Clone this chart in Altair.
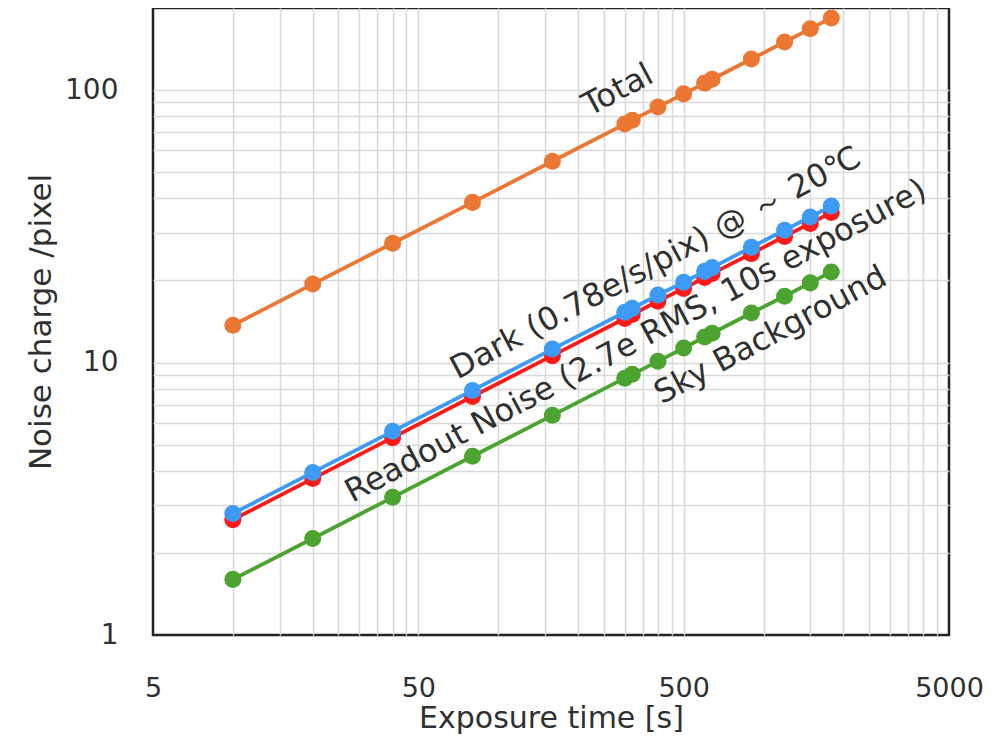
import altair as alt
import pandas as pd

# Exposure times [s]
exposure = [10, 20, 40, 80, 160, 300, 320, 400, 500, 600, 640, 900, 1200, 1500, 1800]
# Noise charge per pixel
total = [13.7, 19.4, 27.4, 38.7, 54.8, 75.0, 77.5, 86.6, 96.8, 106.0, 109.5, 130.0, 150.0, 167.7, 183.7]
dark = [2.79, 3.95, 5.59, 7.90, 11.2, 15.3, 15.8, 17.7, 19.7, 21.6, 22.3, 26.5, 30.6, 34.2, 37.5]
readout = [2.65, 3.75, 5.30, 7.50, 10.6, 14.5, 15.0, 16.8, 18.7, 20.5, 21.2, 25.1, 29.0, 32.4, 35.5]
sky = [1.60, 2.26, 3.20, 4.53, 6.40, 8.76, 9.05, 10.1, 11.3, 12.4, 12.8, 15.2, 17.5, 19.6, 21.5]

series_names = ["Total", "Sky", "Readout", "Dark"]
series_values = [total, sky, readout, dark]
series_colors = ["#EC7733", "#4DA32F", "#FF1A1A", "#3D9BF6"]

# In-chart labels
label_text = ["Total",
              "Dark (0.78e/s/pix) @ ～ 20℃",
              "Readout Noise (2.7e RMS, 10s exposure)",
              "Sky Background"]
label_x = [282, 392, 330, 1062]
label_y = [100, 23.2, 12.0, 12.6]

# Axis grid / tick values
x_grid = [5, 10, 15, 20, 25, 30, 35, 40, 45, 50,
          100, 150, 200, 250, 300, 350, 400, 450, 500,
          1000, 1500, 2000, 2500, 3000, 3500, 4000, 4500, 5000]
x_labels = [5, 50, 500, 5000]
y_grid = [1, 2, 3, 4, 5, 6, 7, 8, 9, 10,
          20, 30, 40, 50, 60, 70, 80, 90, 100, 200]
y_labels = [1, 10, 100]

FONT = "DejaVu Sans"
TXT = "#303030"

x_scale = alt.Scale(type="log", domain=[5, 5000], nice=False)
y_scale = alt.Scale(type="log", domain=[1, 200], nice=False)

x_axis = alt.Axis(
    values=x_grid,
    labelExpr="indexof(%s, datum.value) >= 0 ? '' + datum.value : ''" % str(x_labels),
    labelOverlap=False, labelFlush=False, ticks=False, domain=False,
    grid=True, gridColor="#D9D9D9", gridWidth=1.5,
    gridOpacity={"condition": {"test": "datum.value == 5 || datum.value == 5000", "value": 0}, "value": 1},
    labelFont=FONT, labelFontSize=27, labelColor=TXT, labelPadding=40,
    title="Exposure time [s]", titleFont=FONT, titleFontSize=30,
    titleFontWeight="normal", titleColor=TXT, titleY=92, titleBaseline="alphabetic",
)
y_axis = alt.Axis(
    values=y_grid,
    labelExpr="indexof(%s, datum.value) >= 0 ? '' + datum.value : ''" % str(y_labels),
    labelOverlap=False, labelFlush=False, ticks=False, domain=False,
    grid=True, gridColor="#D9D9D9", gridWidth=1.5,
    gridOpacity={"condition": {"test": "datum.value == 1 || datum.value == 200", "value": 0}, "value": 1},
    labelFont=FONT, labelFontSize=28, labelColor=TXT, labelPadding=35,
    title="Noise charge /pixel", titleFont=FONT, titleFontSize=31,
    titleFontWeight="normal", titleColor=TXT, titleX=-103, titleBaseline="alphabetic",
)

layers = []
for i, (name, vals, col) in enumerate(zip(series_names, series_values, series_colors)):
    df = pd.DataFrame({"t": exposure, "v": vals, "s": name})
    base = alt.Chart(df)
    if i == 0:
        xenc = alt.X("t:Q", scale=x_scale, axis=x_axis)
        yenc = alt.Y("v:Q", scale=y_scale, axis=y_axis)
    else:
        xenc = alt.X("t:Q", scale=x_scale)
        yenc = alt.Y("v:Q", scale=y_scale)
    line = base.mark_line(color=col, strokeWidth=3.8).encode(x=xenc, y=yenc)
    pts = base.mark_circle(color=col, size=290, opacity=1).encode(x=xenc, y=yenc)
    layers += [line, pts]

lab_df = pd.DataFrame({"x": label_x, "y": label_y, "text": label_text})
labels = alt.Chart(lab_df).mark_text(
    angle=332, align="center", baseline="middle", font=FONT, fontSize=32, color=TXT
).encode(
    x=alt.X("x:Q", scale=x_scale),
    y=alt.Y("y:Q", scale=y_scale),
    text="text:N",
)
layers.append(labels)

chart = alt.layer(*layers).properties(
    width=796, height=627,
    autosize=alt.AutoSizeParams(type="none"),
    padding={"left": 145, "top": 0, "right": 47, "bottom": 101},
    background="white",
).configure_view(stroke="#222222", strokeWidth=2.5)

chart.save("out.html", embed_options={"renderer": "svg", "actions": False})
